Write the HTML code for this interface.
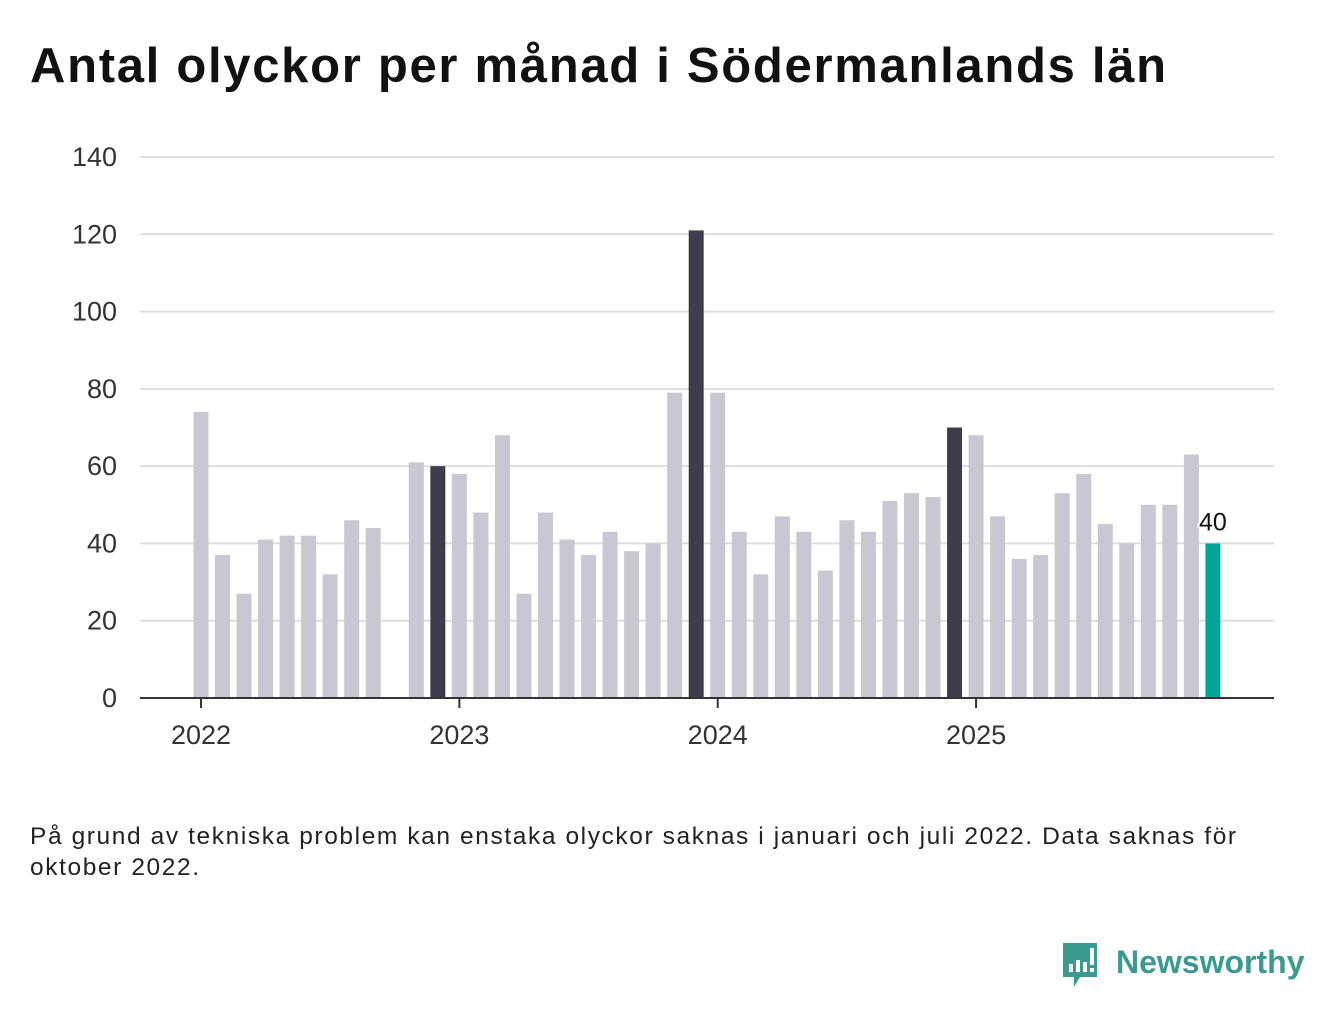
<!DOCTYPE html>
<html><head><meta charset="utf-8"><style>
body{margin:0;width:1340px;height:1020px;background:#fff;font-family:"Liberation Sans",sans-serif;position:relative;overflow:hidden}
h1{position:absolute;left:30px;top:38px;margin:0;font-size:49px;font-weight:bold;color:#111;letter-spacing:1.7px;white-space:nowrap}
.note{position:absolute;left:30px;top:821px;font-size:24.5px;color:#222;line-height:31px;width:1220px;letter-spacing:1.6px}
</style></head><body>
<h1>Antal olyckor per månad i Södermanlands län</h1>
<svg id="chart" width="1340" height="800" style="position:absolute;left:0;top:0"></svg>
<div class="note">På grund av tekniska problem kan enstaka olyckor saknas i januari och juli 2022. Data saknas för oktober 2022.</div>
<svg style="position:absolute;left:1060px;top:940px" width="260" height="55">
<path d="M3 3h34v34h-17l-6 10v-10h-11z" fill="#3a9a8f"/>
<rect x="9" y="24" width="4" height="8" fill="#fff"/><rect x="16" y="20" width="4" height="12" fill="#fff"/><rect x="23" y="22" width="4" height="10" fill="#fff"/><rect x="30" y="8" width="4" height="17" fill="#fff"/><rect x="30" y="28" width="4" height="4" fill="#fff"/>
<text x="56" y="33" font-size="32" font-weight="bold" fill="#3a9a8f" font-family="Liberation Sans, sans-serif">Newsworthy</text>
</svg>
<script>
const months=["2022-01","2022-02","2022-03","2022-04","2022-05","2022-06","2022-07","2022-08","2022-09","2022-10","2022-11","2022-12","2023-01","2023-02","2023-03","2023-04","2023-05","2023-06","2023-07","2023-08","2023-09","2023-10","2023-11","2023-12","2024-01","2024-02","2024-03","2024-04","2024-05","2024-06","2024-07","2024-08","2024-09","2024-10","2024-11","2024-12","2025-01","2025-02","2025-03","2025-04","2025-05","2025-06","2025-07","2025-08","2025-09","2025-10","2025-11","2025-12"];
const values=[74,37,27,41,42,42,32,46,44,null,61,60,58,48,68,27,48,41,37,43,38,40,79,121,79,43,32,47,43,33,46,43,51,53,52,70,68,47,36,37,53,58,45,40,50,50,63,40];
const yTicks=[0,20,40,60,80,100,120,140];
const xLabels=["2022","2023","2024","2025"];
const svg=document.getElementById('chart');const NS="http://www.w3.org/2000/svg";
const y=v=>698-v*(541/140);const x=i=>201+i*21.53;
function mk(t,a){const e=document.createElementNS(NS,t);for(const k in a)e.setAttribute(k,a[k]);svg.appendChild(e);return e;}
yTicks.forEach(t=>{const g=mk('line',{x1:140,x2:1274,y1:y(t),y2:y(t),stroke:'#ddd','stroke-width':2});


const l=mk('text',{x:117,y:y(t)+9,'font-size':27,fill:'#333','text-anchor':'end','font-family':'Liberation Sans, sans-serif'});l.textContent=t;

});
values.forEach((v,i)=>{if(v==null)return;const last=i==values.length-1;const dark=months[i].endsWith('-12')&&!last;
const r=mk('rect',{x:x(i)-7.5,y:y(v),width:15,height:698-y(v),fill:last?'#00a59a':dark?'#3f3d4b':'#c8c7d2'});


if(last){const t=mk('text',{x:x(i),y:y(v)-13,'font-size':25,fill:'#111','text-anchor':'middle',stroke:'#fff','stroke-width':4,'paint-order':'stroke','font-family':'Liberation Sans, sans-serif'});t.textContent=v;

}});
const ax=mk('line',{x1:140,x2:1274,y1:698,y2:698,stroke:'#333','stroke-width':2});


xLabels.forEach((lb,k)=>{const xi=x(k*12);const tk=mk('line',{x1:xi,x2:xi,y1:698,y2:708,stroke:'#333','stroke-width':2});


const t=mk('text',{x:xi,y:744,'font-size':27,fill:'#333','text-anchor':'middle','font-family':'Liberation Sans, sans-serif'});t.textContent=lb;

});
</script>
</body></html>
